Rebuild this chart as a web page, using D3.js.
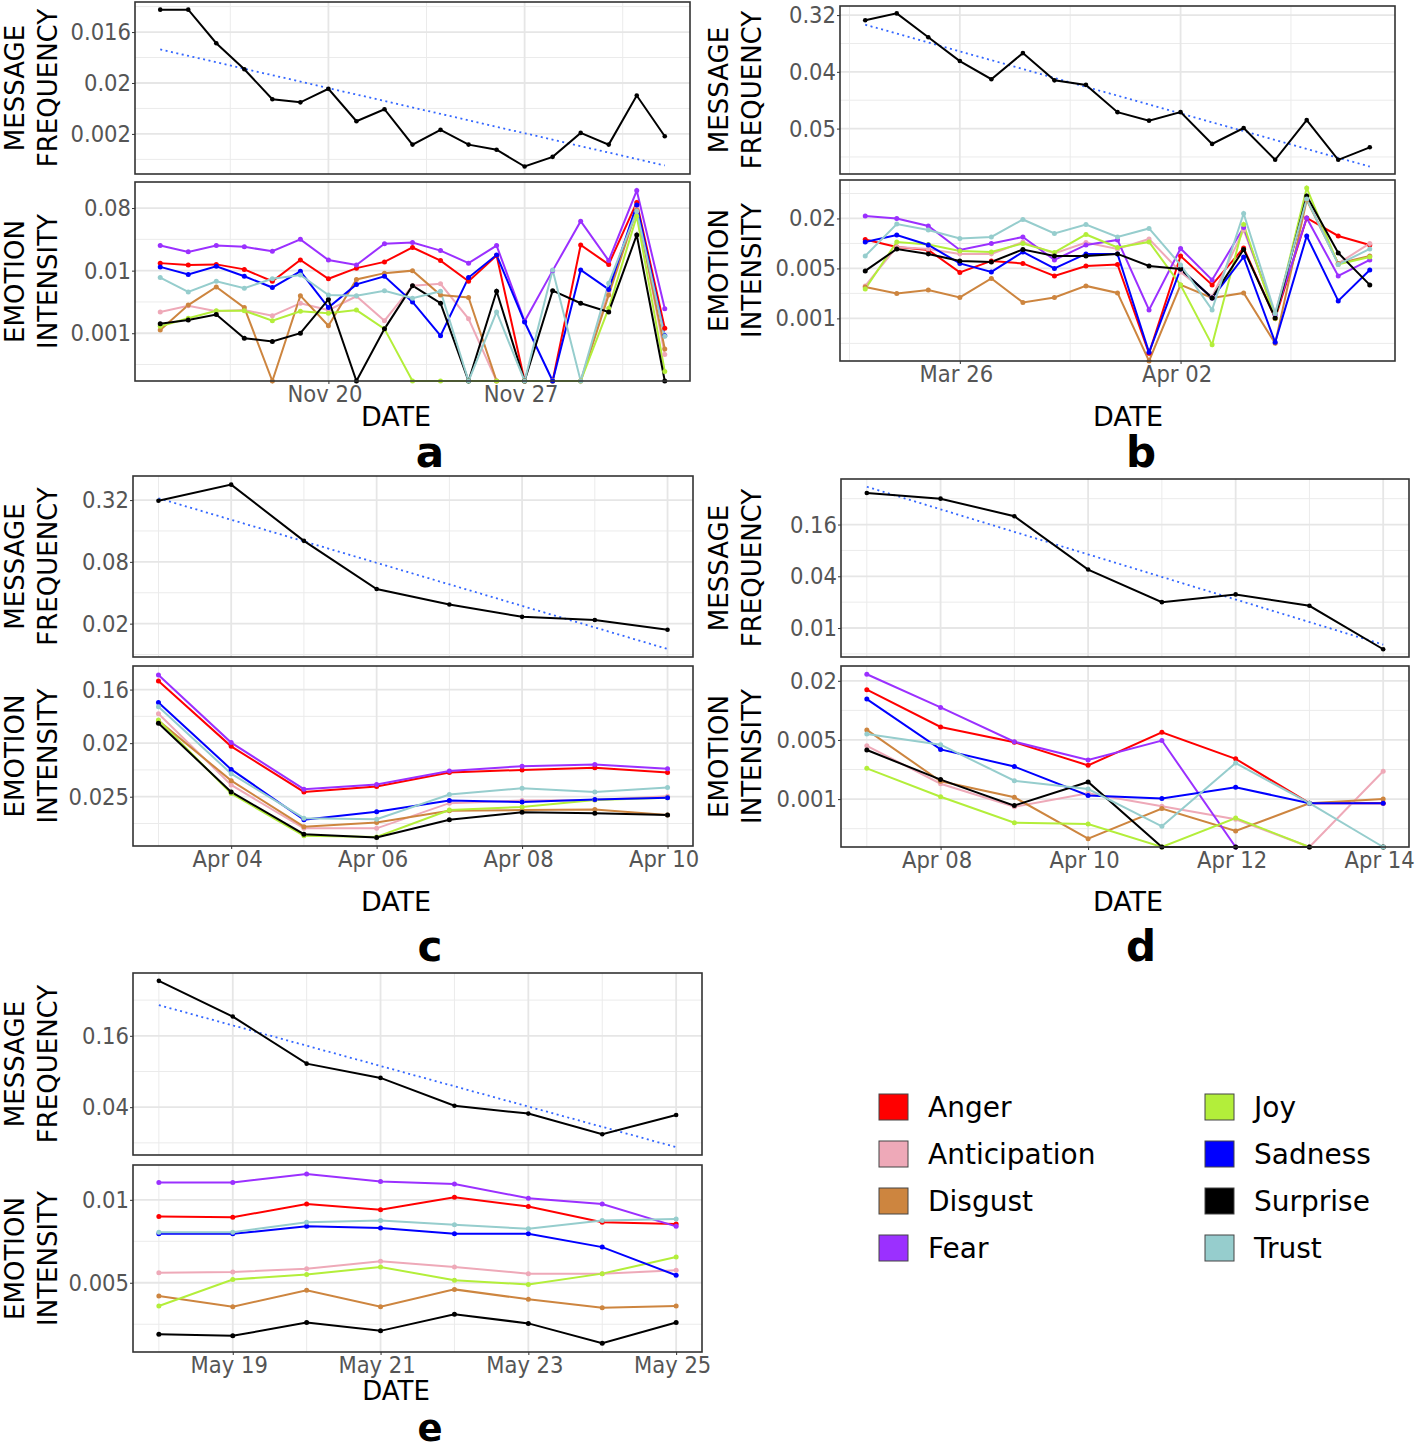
<!DOCTYPE html>
<html><head><meta charset="utf-8">
<script src="https://cdn.jsdelivr.net/npm/d3@7"></script>
<style>
body{margin:0;background:#fff;}
svg{display:block;}
</style></head><body>
<svg id="chart" width="1418" height="1450"></svg>
<script>
// ---------------- DATA ----------------
// Values are given in axis units: 1, 2, 3 = the 1st, 2nd, 3rd labelled tick from the bottom.
// 0 means a zero count (drawn at the floor of the log axis).
const emotions = ["Anger","Anticipation","Disgust","Fear","Joy","Sadness","Surprise","Trust"];
const emotionColors = ["#FF0000","#EEA9B8","#CD853F","#9B30FF","#B3EE3A","#0000FF","#000000","#96CDCD"];

// Panel a
const aDates = ["2020-11-14","2020-11-15","2020-11-16","2020-11-17","2020-11-18","2020-11-19","2020-11-20","2020-11-21","2020-11-22","2020-11-23","2020-11-24","2020-11-25","2020-11-26","2020-11-27","2020-11-28","2020-11-29","2020-11-30","2020-12-01","2020-12-02"];
const aXTicks = ["2020-11-20","2020-11-27"];
const aFreqTicks = ["0.002","0.02","0.016"];
const aFreq = [3.44,3.44,2.78,2.27,1.68,1.62,1.885,1.25,1.485,0.79,1.08,0.79,0.69,0.36,0.55,1.02,0.79,1.754,0.954];
const aTrend = [2.66,0.38];
const aEmoTicks = ["0.001","0.01","0.08"];
const aEmotion = [
  [2.12,2.09,2.10,2.02,1.83,2.17,1.87,2.04,2.14,2.37,2.16,1.83,2.24,0,0,2.41,2.10,3.09,1.08],
  [1.34,1.44,1.35,1.37,1.28,1.48,1.37,1.59,1.20,1.76,1.79,1.23,0,0,0,0,1.67,3.00,0.66],
  [1.05,1.45,1.74,1.41,0,1.60,1.12,1.86,1.96,2.00,1.61,1.57,0,0,0,0,1.61,2.97,0.75],
  [2.40,2.30,2.40,2.38,2.31,2.50,2.17,2.09,2.43,2.45,2.32,2.12,2.40,1.19,2.00,2.79,2.16,3.28,1.39],
  [1.11,1.24,1.36,1.36,1.20,1.35,1.32,1.37,1.07,0,0,0,0,0,0,0,1.40,2.87,0.39],
  [2.06,1.94,2.07,1.91,1.73,1.99,1.41,1.78,1.91,1.50,0.96,1.89,2.25,1.18,0,2.01,1.70,3.05,0.96],
  [1.15,1.21,1.30,0.92,0.87,1.00,1.54,0,1.07,1.76,1.48,0,1.67,0,1.68,1.48,1.34,2.57,0],
  [1.89,1.66,1.83,1.72,1.87,1.93,1.61,1.60,1.68,1.56,1.67,0,1.34,0,2.01,0,1.80,2.95,0.95]
];

// Panel b
const bDates = ["2020-03-23","2020-03-24","2020-03-25","2020-03-26","2020-03-27","2020-03-28","2020-03-29","2020-03-30","2020-03-31","2020-04-01","2020-04-02","2020-04-03","2020-04-04","2020-04-05","2020-04-06","2020-04-07","2020-04-08"];
const bXTicks = ["2020-03-26","2020-04-02"];
const bFreqTicks = ["0.05","0.04","0.32"];
const bFreq = [2.91,3.03,2.61,2.19,1.87,2.33,1.85,1.77,1.29,1.14,1.29,0.73,1.01,0.45,1.15,0.45,0.67];
const bTrend = [2.83,0.33];
const bEmoTicks = ["0.001","0.005","0.02"];
const bEmotion = [
  [2.58,2.43,2.37,1.92,2.15,2.10,1.85,2.05,2.08,0.30,2.25,1.67,2.41,1.00,3.01,2.65,2.47],
  [1.65,2.43,2.39,2.29,2.29,2.53,2.30,2.52,2.39,2.59,1.93,1.43,2.77,1.10,3.39,2.10,2.50],
  [1.63,1.50,1.57,1.42,1.80,1.32,1.42,1.65,1.51,0,1.67,1.41,1.51,0.50,3.37,2.10,2.25],
  [3.05,3.00,2.85,2.37,2.50,2.63,2.17,2.47,2.57,1.17,2.40,1.77,2.82,1.07,3.01,1.85,2.17],
  [1.59,2.53,2.48,2.35,2.33,2.50,2.32,2.68,2.42,2.53,1.67,0.47,2.88,1.00,3.61,2.08,2.23],
  [2.53,2.67,2.47,2.10,1.93,2.33,2.00,2.29,2.29,0.32,1.99,1.41,2.23,0.52,2.65,1.35,1.97],
  [1.95,2.39,2.29,2.15,2.13,2.38,2.25,2.25,2.29,2.05,1.99,1.41,2.38,1.01,3.45,2.31,1.67],
  [2.25,2.89,2.77,2.60,2.63,2.98,2.70,2.88,2.63,2.80,2.07,1.17,3.10,1.10,3.39,2.08,2.39]
];

// Panel c
const cDates = ["2020-04-03","2020-04-04","2020-04-05","2020-04-06","2020-04-07","2020-04-08","2020-04-09","2020-04-10"];
const cXTicks = ["2020-04-04","2020-04-06","2020-04-08","2020-04-10"];
const cFreqTicks = ["0.02","0.08","0.32"];
const cFreq = [2.99,3.25,2.34,1.56,1.31,1.11,1.06,0.90];
const cTrend = [3.03,0.59];
const cEmoTicks = ["0.025","0.02","0.16"];
const cEmotion = [
  [3.16,1.94,1.09,1.19,1.45,1.50,1.54,1.45],
  [2.55,1.22,0.41,0.41,0.88,0.93,0.94,1.01],
  [2.42,1.30,0.44,0.52,0.74,0.75,0.76,0.66],
  [3.27,2.01,1.14,1.23,1.48,1.57,1.60,1.52],
  [2.43,1.06,0.27,0.25,0.75,0.81,0.94,0.98],
  [2.76,1.51,0.57,0.72,0.93,0.90,0.95,0.98],
  [2.37,1.09,0.30,0.24,0.57,0.71,0.69,0.66],
  [2.68,1.43,0.60,0.58,1.04,1.16,1.09,1.17]
];

// Panel d
const dDates = ["2020-04-07","2020-04-08","2020-04-09","2020-04-10","2020-04-11","2020-04-12","2020-04-13","2020-04-14"];
const dXTicks = ["2020-04-08","2020-04-10","2020-04-12","2020-04-14"];
const dFreqTicks = ["0.01","0.04","0.16"];
const dFreq = [3.61,3.50,3.16,2.13,1.50,1.65,1.43,0.59];
const dTrend = [3.73,0.68];
const dEmoTicks = ["0.001","0.005","0.02"];
const dEmotion = [
  [2.85,2.22,1.96,1.57,2.13,1.68,0.93,0.93],
  [1.90,1.26,0.87,1.10,0.88,0.66,0,1.47],
  [2.17,1.30,1.03,0.33,0.84,0.46,0.93,1.00],
  [3.11,2.55,1.97,1.66,1.99,0,0,0],
  [1.52,1.04,0.60,0.58,0,0.68,0,0],
  [2.69,1.84,1.55,1.06,1.01,1.20,0.93,0.93],
  [1.83,1.33,0.89,1.29,0,0,0,0],
  [2.10,1.92,1.31,1.17,0.54,1.61,0.93,0]
];

// Panel e
const eDates = ["2020-05-18","2020-05-19","2020-05-20","2020-05-21","2020-05-22","2020-05-23","2020-05-24","2020-05-25"];
const eXTicks = ["2020-05-19","2020-05-21","2020-05-23","2020-05-25"];
const eFreqTicks = ["0.04","0.16"];
const eFreq = [2.77,2.27,1.61,1.41,1.02,0.91,0.62,0.89];
const eTrend = [2.43,0.44];
const eEmoTicks = ["0.005","0.01"];
const eEmotion = [
  [1.80,1.79,1.95,1.88,2.03,1.92,1.73,1.71],
  [1.12,1.13,1.17,1.26,1.19,1.11,1.11,1.15],
  [0.84,0.71,0.91,0.71,0.92,0.80,0.70,0.72],
  [2.21,2.21,2.31,2.22,2.19,2.02,1.95,1.68],
  [0.72,1.04,1.10,1.19,1.03,0.98,1.11,1.31],
  [1.59,1.59,1.68,1.66,1.59,1.59,1.43,1.09],
  [0.38,0.36,0.52,0.42,0.62,0.51,0.27,0.52],
  [1.61,1.61,1.73,1.75,1.70,1.65,1.75,1.77]
];

// ---------------- LAYOUT ----------------
const panels = [
  {letter:"a", dates:aDates, xTicks:aXTicks, majorStep:7, freq:aFreq, trend:aTrend, freqTicks:aFreqTicks, emo:aEmotion, emoTicks:aEmoTicks,
   left:135, right:690, top:[2,174], bottom:[182,381], freqDom:[0.213,3.59], emoDom:[0.237,3.416], dateY:416, letterY:452, letterSize:42, dateSize:27, titleX:[15,48], dateX:396, letterX:430},
  {letter:"b", dates:bDates, xTicks:bXTicks, majorStep:7, freq:bFreq, trend:bTrend, freqTicks:bFreqTicks, emo:bEmotion, emoTicks:bEmoTicks,
   left:840, right:1395, top:[6,174], bottom:[180,361], freqDom:[0.2,3.16], emoDom:[0.147,3.77], dateY:416, letterY:452, letterSize:42, dateSize:27, titleX:[719,752], dateX:1128, letterX:1141},
  {letter:"c", dates:cDates, xTicks:cXTicks, majorStep:2, freq:cFreq, trend:cTrend, freqTicks:cFreqTicks, emo:cEmotion, emoTicks:cEmoTicks,
   left:133, right:693, top:[476,657], bottom:[666,846], freqDom:[0.46,3.39], emoDom:[0.08,3.44], dateY:901, letterY:946, letterSize:42, dateSize:27, titleX:[15,48], dateX:396, letterX:430},
  {letter:"d", dates:dDates, xTicks:dXTicks, majorStep:2, freq:dFreq, trend:dTrend, freqTicks:dFreqTicks, emo:dEmotion, emoTicks:dEmoTicks,
   left:841, right:1409, top:[479,657], bottom:[666,847], freqDom:[0.44,3.88], emoDom:[0.19,3.25], dateY:901, letterY:946, letterSize:42, dateSize:27, titleX:[719,752], dateX:1128, letterX:1141},
  {letter:"e", dates:eDates, xTicks:eXTicks, majorStep:2, freq:eFreq, trend:eTrend, freqTicks:eFreqTicks, emo:eEmotion, emoTicks:eEmoTicks,
   left:133, right:702, top:[973,1155], bottom:[1165,1352], freqDom:[0.33,2.88], emoDom:[0.165,2.42], dateY:1391, letterY:1428, letterSize:37, dateSize:26, titleX:[15,48], dateX:396, letterX:430}
];

const svg = d3.select("#chart");
const parse = d3.utcParse("%Y-%m-%d");
const DAY = 864e5;
const tickFont = "'DejaVu Sans Condensed','DejaVu Sans',sans-serif";
const titleFont = "'DejaVu Sans',sans-serif";

function drawBox(g, x, y, yr, cfg, yTickLabels, titleLines, showX) {
  const [x0, x1] = x.range();
  const [yTop, yBot] = yr;
  const d0 = x.domain()[0], d1 = x.domain()[1];
  const first = parse(cfg.xTicks[0]);
  const majors = [], minors = [];
  for (let k = -10; k <= 10; k++) {
    const m = new Date(+first + k * cfg.majorStep * DAY);
    const mi = new Date(+m + cfg.majorStep * DAY / 2);
    if (m >= d0 && m <= d1) majors.push(m);
    if (mi >= d0 && mi <= d1) minors.push(mi);
  }
  const yd = y.domain();
  const yMaj = [], yMin = [];
  for (let v = 0; v <= 5; v += 0.5) {
    if (v < yd[0] || v > yd[1]) continue;
    (Number.isInteger(v) ? yMaj : yMin).push(v);
  }
  g.append("rect").attr("x", x0).attr("y", yTop).attr("width", x1 - x0).attr("height", yBot - yTop).attr("fill", "#fff");
  const grid = g.append("g");
  grid.selectAll(".vmin").data(minors).join("line")
    .attr("x1", d => x(d)).attr("x2", d => x(d)).attr("y1", yTop).attr("y2", yBot)
    .attr("stroke", "#ebebeb").attr("stroke-width", 1);
  grid.selectAll(".hmin").data(yMin).join("line")
    .attr("x1", x0).attr("x2", x1).attr("y1", d => y(d)).attr("y2", d => y(d))
    .attr("stroke", "#ebebeb").attr("stroke-width", 1);
  grid.selectAll(".vmaj").data(majors).join("line")
    .attr("x1", d => x(d)).attr("x2", d => x(d)).attr("y1", yTop).attr("y2", yBot)
    .attr("stroke", "#e6e6e6").attr("stroke-width", 1.8);
  grid.selectAll(".hmaj").data(yMaj).join("line")
    .attr("x1", x0).attr("x2", x1).attr("y1", d => y(d)).attr("y2", d => y(d))
    .attr("stroke", "#e6e6e6").attr("stroke-width", 1.8);

  const ya = g.append("g").attr("transform", `translate(${x0},0)`)
    .call(d3.axisLeft(y).tickValues(yTickLabels.map((_, i) => i + 1)).tickFormat(d => yTickLabels[d - 1]).tickSizeInner(3).tickSizeOuter(0).tickPadding(1));
  ya.select(".domain").remove();
  ya.selectAll(".tick line").attr("stroke", "#333").attr("stroke-width", 1);
  ya.selectAll(".tick text").attr("font-family", tickFont).attr("font-size", 23.5).attr("fill", "#555");

  if (showX) {
    const xa = g.append("g").attr("transform", `translate(0,${yBot})`)
      .call(d3.axisBottom(x).tickValues(cfg.xTicks.map(parse)).tickFormat(d3.utcFormat("%b %d")).tickSizeInner(3).tickSizeOuter(0).tickPadding(1));
    xa.select(".domain").remove();
    xa.selectAll(".tick line").attr("stroke", "#333").attr("stroke-width", 1);
    xa.selectAll(".tick text").attr("font-family", tickFont).attr("font-size", 23.5).attr("fill", "#555").attr("dx", -4);
  }

  const cy = (yTop + yBot) / 2;
  titleLines.forEach((t, i) => {
    g.append("text").attr("transform", `translate(${cfg.titleX[i]},${cy}) rotate(-90)`)
      .attr("text-anchor", "middle").attr("dominant-baseline", "central")
      .attr("font-family", titleFont).attr("font-size", 26).attr("fill", "#000").text(t);
  });
  return g;
}

function border(g, x, yr) {
  const [x0, x1] = x.range();
  g.append("rect").attr("x", x0).attr("y", yr[0]).attr("width", x1 - x0).attr("height", yr[1] - yr[0])
    .attr("fill", "none").attr("stroke", "#333").attr("stroke-width", 1.6);
}

panels.forEach(cfg => {
  const dates = cfg.dates.map(parse);
  const span = dates[dates.length - 1] - dates[0];
  const x = d3.scaleUtc()
    .domain([new Date(+dates[0] - span * 0.05), new Date(+dates[dates.length - 1] + span * 0.05)])
    .range([cfg.left, cfg.right]);

  // ---- message frequency ----
  const gT = svg.append("g");
  const yT = d3.scaleLinear().domain(cfg.freqDom).range([cfg.top[1], cfg.top[0]]).clamp(true);
  drawBox(gT, x, yT, cfg.top, cfg, cfg.freqTicks, ["MESSAGE", "FREQUENCY"], false);
  gT.append("line")
    .attr("x1", x(dates[0])).attr("y1", yT(cfg.trend[0]))
    .attr("x2", x(dates[dates.length - 1])).attr("y2", yT(cfg.trend[1]))
    .attr("stroke", "#3366FF").attr("stroke-width", 1.8).attr("stroke-dasharray", "2,3.5");
  const lineT = d3.line().x((d, i) => x(dates[i])).y(d => yT(d));
  gT.append("path").datum(cfg.freq).attr("d", lineT).attr("fill", "none").attr("stroke", "#000").attr("stroke-width", 2);
  gT.selectAll(".pt").data(cfg.freq).join("circle")
    .attr("cx", (d, i) => x(dates[i])).attr("cy", d => yT(d)).attr("r", 2.3).attr("fill", "#000");
  border(gT, x, cfg.top);

  // ---- emotion intensity ----
  const gB = svg.append("g");
  const yB = d3.scaleLinear().domain(cfg.emoDom).range([cfg.bottom[1], cfg.bottom[0]]).clamp(true);
  drawBox(gB, x, yB, cfg.bottom, cfg, cfg.emoTicks, ["EMOTION", "INTENSITY"], true);
  const lineB = d3.line().x((d, i) => x(dates[i])).y(d => yB(d));
  const series = cfg.emo.map((vals, k) => ({vals, color: emotionColors[k], name: emotions[k]}));
  gB.selectAll(".ln").data(series).join("path")
    .attr("d", s => lineB(s.vals)).attr("fill", "none").attr("stroke", s => s.color).attr("stroke-width", 2);
  series.forEach(s => {
    gB.append("g").selectAll("circle").data(s.vals).join("circle")
      .attr("cx", (d, i) => x(dates[i])).attr("cy", d => yB(d)).attr("r", 2.5).attr("fill", s.color);
  });
  border(gB, x, cfg.bottom);

  svg.append("text").attr("x", cfg.dateX).attr("y", cfg.dateY).attr("text-anchor", "middle").attr("dominant-baseline", "central")
    .attr("font-family", titleFont).attr("font-size", cfg.dateSize).attr("fill", "#000").text("DATE");
  svg.append("text").attr("x", cfg.letterX).attr("y", cfg.letterY).attr("text-anchor", "middle").attr("dominant-baseline", "central")
    .attr("font-family", titleFont).attr("font-weight", "bold").attr("font-size", cfg.letterSize).attr("fill", "#000").text(cfg.letter);
});

// ---------------- LEGEND ----------------
const legend = svg.append("g");
emotions.forEach((name, i) => {
  const col = Math.floor(i / 4), row = i % 4;
  const sx = col === 0 ? 879 : 1205;
  const cy = 1107 + row * 47;
  legend.append("rect").attr("x", sx).attr("y", cy - 13).attr("width", 29).attr("height", 26)
    .attr("fill", emotionColors[i]).attr("stroke", "#444").attr("stroke-width", 1);
  legend.append("text").attr("x", sx + 49).attr("y", cy).attr("dominant-baseline", "central")
    .attr("font-family", titleFont).attr("font-size", 28).attr("fill", "#000").text(name);
});
</script></body></html>
